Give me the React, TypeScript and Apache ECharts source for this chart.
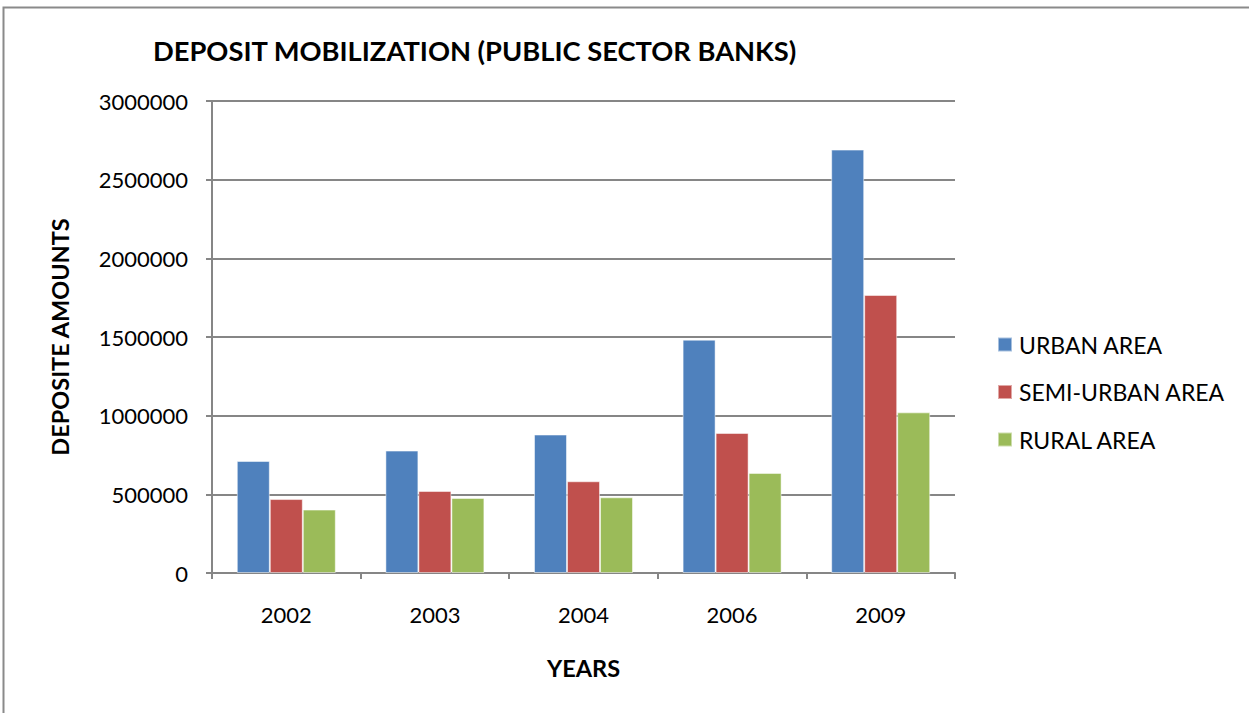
import React, { useEffect, useRef } from "react";
import * as echarts from "echarts";

const years = ["2002", "2003", "2004", "2006", "2009"];
const urban = [712000, 778000, 880000, 1483000, 2691000];
const semiUrban = [470000, 521000, 583000, 890000, 1767000];
const rural = [403000, 477000, 481000, 636000, 1021000];
const seriesNames = ["URBAN AREA", "SEMI-URBAN AREA", "RURAL AREA"];
const colors = ["#4F81BD", "#C0504D", "#9BBB59"];

const FONT = "Lato, 'Open Sans', sans-serif";

export default function App() {
  const ref = useRef<HTMLDivElement>(null);
  useEffect(() => {
    const chart = echarts.init(ref.current!, null, { renderer: "svg" });
    const data = [urban, semiUrban, rural];
    chart.setOption({
      animation: false,
      backgroundColor: "#ffffff",
      title: {
        text: "DEPOSIT MOBILIZATION (PUBLIC SECTOR BANKS)",
        left: 148,
        top: 32,
        textStyle: { fontFamily: FONT, fontSize: 27.3, fontWeight: "bold", color: "#000" },
      },
      graphic: [
        {
          type: "rect",
          shape: { x: 3.5, y: 7.5, width: 1300, height: 800 },
          style: { fill: "none", stroke: "#8a8a8a", lineWidth: 2 },
          silent: true,
        },
      ],
      legend: {
        orient: "vertical",
        left: 997,
        top: 333,
        padding: 0,
        itemWidth: 14,
        itemHeight: 14,
        itemGap: 24.5,
        icon: "rect",
        textStyle: { fontFamily: FONT, fontSize: 23, color: "#000", padding: [0, 0, 0, 2] },
        data: seriesNames,
      },
      grid: { left: 212, right: 294, top: 101, bottom: 140, containLabel: false },
      xAxis: {
        type: "category",
        data: years,
        name: "YEARS",
        nameLocation: "middle",
        nameGap: 83,
        nameTextStyle: { fontFamily: FONT, fontSize: 23.5, fontWeight: "bold", color: "#000" },
        axisLine: { lineStyle: { color: "#868686", width: 2 } },
        axisTick: { show: true, length: 6, lineStyle: { color: "#868686", width: 2 } },
        axisLabel: { fontFamily: FONT, fontSize: 22, color: "#000", margin: 30 },
      },
      yAxis: {
        type: "value",
        min: 0,
        max: 3000000,
        interval: 500000,
        name: "DEPOSITE AMOUNTS",
        nameLocation: "middle",
        nameGap: 140,
        nameRotate: 90,
        nameTextStyle: { fontFamily: FONT, fontSize: 23.5, fontWeight: "bold", color: "#000" },
        axisLine: { show: true, lineStyle: { color: "#868686", width: 2 } },
        axisTick: { show: true, length: 6, lineStyle: { color: "#868686", width: 2 } },
        splitLine: { lineStyle: { color: "#868686", width: 2 } },
        axisLabel: {
          fontFamily: FONT,
          fontSize: 22,
          color: "#000",
          margin: 24,
          formatter: (v: number) => String(v),
        },
      },
      series: seriesNames.map((name, i) => ({
        name,
        type: "bar",
        data: data[i],
        barWidth: 33,
        barGap: "0%",
        itemStyle: { color: colors[i], borderColor: "rgba(255,255,255,0.5)", borderWidth: 1 },
      })),
    });
    return () => chart.dispose();
  }, []);
  return <div ref={ref} style={{ width: 1249, height: 713, position: "absolute", left: 0, top: 0 }} />;
}
